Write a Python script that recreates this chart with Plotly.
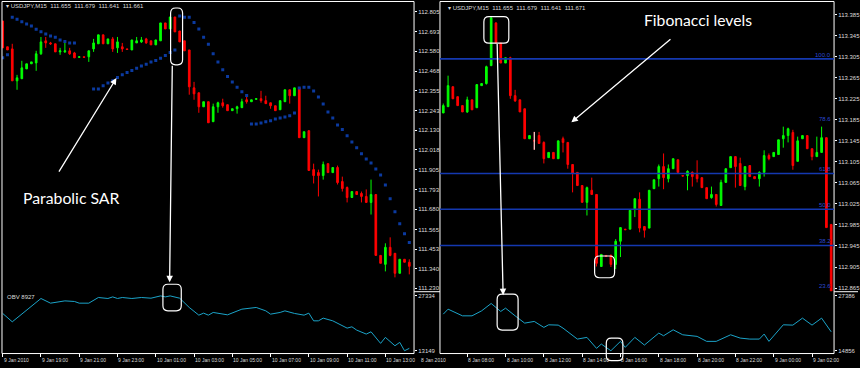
import plotly.graph_objects as go

# ---------------- data: left chart (USDJPY M15, Parabolic SAR) ----------------
left_open = [112.753,112.606,112.594,112.412,112.424,112.480,112.509,112.514,112.566,112.640,
             112.628,112.623,112.577,112.577,112.583,112.571,112.546,112.549,112.549,112.594,
             112.623,112.674,112.623,112.651,112.600,112.606,112.594,112.588,112.628,112.634,
             112.651,112.640,112.617,112.640,112.742,112.708,112.776,112.696,112.640,112.588,
             112.372,112.344,112.264,112.293,112.179,112.264,112.287,112.276,112.242,112.253,
             112.259,112.304,112.293,112.307,112.310,112.299,112.287,112.270,112.247,112.293,
             112.361,112.327,112.372,112.088,112.128,111.906,111.889,111.872,111.940,111.889,
             111.918,111.838,111.804,111.747,111.781,111.770,111.753,111.719,111.764,111.417,
             111.366,111.463,111.429,111.315,111.395,111.378]
left_high = [112.753,112.606,112.623,112.446,112.526,112.509,112.520,112.583,112.662,112.662,
             112.634,112.623,112.600,112.634,112.600,112.577,112.549,112.549,112.583,112.651,
             112.674,112.674,112.651,112.662,112.662,112.628,112.594,112.645,112.662,112.662,
             112.657,112.640,112.645,112.742,112.742,112.776,112.776,112.696,112.640,112.588,
             112.406,112.344,112.293,112.293,112.282,112.293,112.310,112.276,112.253,112.270,
             112.310,112.333,112.304,112.310,112.355,112.327,112.287,112.270,112.299,112.361,
             112.361,112.372,112.372,112.122,112.128,111.940,111.906,111.952,111.940,111.918,
             111.929,111.866,111.810,111.781,111.781,111.781,111.793,111.849,111.764,111.417,
             111.486,111.520,111.429,111.395,111.395,111.395]
left_low = [112.600,112.588,112.412,112.361,112.424,112.480,112.509,112.469,112.560,112.600,
            112.617,112.577,112.560,112.571,112.560,112.543,112.543,112.546,112.520,112.577,
            112.623,112.623,112.623,112.577,112.571,112.577,112.591,112.588,112.628,112.628,
            112.623,112.617,112.617,112.640,112.708,112.708,112.691,112.634,112.583,112.333,
            112.304,112.230,112.264,112.173,112.179,112.230,112.259,112.242,112.242,112.225,
            112.259,112.282,112.293,112.304,112.287,112.282,112.253,112.242,112.247,112.293,
            112.282,112.327,112.088,112.088,111.901,111.827,111.753,111.849,111.889,111.889,
            111.821,111.781,111.719,111.747,111.764,111.719,111.719,111.650,111.417,111.372,
            111.326,111.412,111.292,111.315,111.378,111.309]
left_close = [112.600,112.588,112.412,112.429,112.486,112.509,112.520,112.566,112.634,112.628,
              112.623,112.577,112.583,112.583,112.566,112.543,112.549,112.546,112.583,112.628,
              112.674,112.623,112.651,112.594,112.634,112.594,112.591,112.645,112.640,112.645,
              112.628,112.617,112.645,112.742,112.708,112.776,112.691,112.634,112.583,112.378,
              112.338,112.264,112.293,112.173,112.264,112.287,112.270,112.242,112.253,112.264,
              112.293,112.293,112.304,112.310,112.299,112.282,112.270,112.242,112.299,112.361,
              112.327,112.372,112.088,112.122,111.901,111.872,111.872,111.935,111.889,111.918,
              111.832,111.798,111.747,111.781,111.764,111.753,111.719,111.764,111.417,111.372,
              111.463,111.417,111.315,111.395,111.378,111.355]
left_sar = [112.543,112.560,112.774,112.763,112.749,112.736,112.725,112.706,112.692,112.679,
            112.668,112.661,112.645,112.636,112.627,112.627,None,None,None,112.365,
            112.365,112.384,112.399,112.412,112.431,112.446,112.459,112.471,112.484,112.497,
            112.507,112.519,112.528,112.541,112.556,112.573,112.588,112.782,112.774,112.774,
            112.744,112.708,112.661,112.621,112.566,112.519,112.475,112.437,112.405,112.376,
            112.350,112.329,112.166,112.166,112.172,112.179,112.185,112.194,112.200,112.206,
            112.213,112.229,112.371,112.376,112.376,112.354,112.320,112.280,112.234,112.200,
            112.160,112.134,112.099,112.064,112.030,111.996,111.967,111.944,111.910,111.876,
            111.819,111.740,111.666,111.597,111.541,111.490]
left_obv_bar = [0,2,8,10,13,14,15,16,18,20,22,23,24,25,27,29,31,33,34,35,37,39,41,42,43,44,45,47,50,53,
                55,56,58,59,61,63,64,65,66,67,69,72,73,74,76,77,79,80,82,83,84,85]
left_obv = [22794,20628,26663,25451,26044,25889,25889,25451,25451,26921,26663,27076,26663,26921,26663,
            26921,26740,27334,27076,27334,26740,24342,22356,22872,22356,23052,22872,22433,23903,24342,
            23465,22614,23052,23465,22794,22356,22872,20886,20886,21582,20886,19003,19339,18488,17456,
            18049,15057,16605,14439,15315,13149,13768]
left_price_ticks = ["112.805","112.693","112.580","112.468","112.355","112.243","112.130","112.018",
                    "111.905","111.793","111.680","111.565","111.453","111.340","111.230"]
left_obv_ticks = ["27334", "13149"]
left_time_bar = [0, 8, 16, 24, 32, 40, 48, 56, 64, 72, 80]
left_time_txt = ["9 Jan 2010", "9 Jan 19:00", "9 Jan 21:00", "9 Jan 23:00", "10 Jan 01:00", "10 Jan 03:00",
                 "10 Jan 05:00", "10 Jan 07:00", "10 Jan 09:00", "10 Jan 11:00", "10 Jan 13:00"]

# ---------------- data: right chart (USDJPY M15, Fibonacci) ----------------
right_open = [113.198,113.210,113.248,113.229,113.212,113.200,113.223,113.208,113.250,113.254,
              113.288,113.369,113.331,113.293,113.303,113.231,113.223,113.206,113.149,113.145,
              113.155,113.142,113.113,113.123,113.111,113.149,113.142,113.100,113.085,113.060,
              113.028,113.051,113.043,112.906,112.927,112.927,112.910,112.954,112.977,112.977,
              113.015,113.034,112.982,112.979,113.054,113.073,113.096,113.073,113.092,113.109,
              113.079,113.079,113.085,113.081,113.075,113.056,113.037,113.043,113.022,113.066,
              113.094,113.115,113.102,113.058,113.098,113.077,113.073,113.085,113.117,113.115,
              113.119,113.149,113.155,113.161,113.106,113.149,113.155,113.130,113.115,113.123,
              113.151,112.986]
right_high = [113.216,113.269,113.248,113.229,113.212,113.229,113.223,113.252,113.254,113.288,
              113.381,113.371,113.331,113.303,113.305,113.242,113.223,113.206,113.155,113.162,
              113.162,113.144,113.123,113.123,113.145,113.153,113.142,113.100,113.085,113.060,
              113.058,113.075,113.043,112.929,112.927,112.929,112.958,112.980,112.977,113.013,
              113.035,113.047,112.982,113.051,113.071,113.100,113.121,113.100,113.111,113.109,
              113.079,113.089,113.087,113.108,113.075,113.056,113.058,113.043,113.071,113.092,
              113.115,113.115,113.113,113.096,113.098,113.077,113.087,113.127,113.121,113.123,
              113.147,113.172,113.170,113.166,113.153,113.155,113.155,113.130,113.153,113.172,
              113.151,112.986]
right_low = [113.198,113.210,113.225,113.212,113.200,113.198,113.204,113.208,113.250,113.252,
             113.288,113.331,113.293,113.293,113.225,113.219,113.200,113.149,113.149,113.128,
             113.140,113.102,113.113,113.111,113.111,113.123,113.092,113.047,113.060,113.028,
             113.003,113.043,112.906,112.906,112.925,112.905,112.901,112.924,112.976,112.977,
             113.000,112.971,112.961,112.979,113.054,113.058,113.053,113.066,113.092,113.085,
             113.078,113.051,113.058,113.066,113.056,113.035,113.035,113.020,113.022,113.066,
             113.094,113.056,113.060,113.051,113.077,113.073,113.058,113.077,113.108,113.115,
             113.119,113.132,113.142,113.090,113.106,113.149,113.130,113.108,113.115,113.123,
             112.980,112.859]
right_close = [113.212,113.250,113.225,113.212,113.200,113.223,113.204,113.252,113.254,113.286,
               113.379,113.331,113.293,113.303,113.231,113.221,113.200,113.149,113.155,113.145,
               113.140,113.111,113.123,113.111,113.145,113.142,113.100,113.083,113.060,113.028,
               113.056,113.043,112.912,112.929,112.925,112.910,112.954,112.980,112.976,113.013,
               113.035,112.979,112.975,113.051,113.071,113.096,113.075,113.092,113.111,113.085,
               113.078,113.087,113.077,113.073,113.056,113.035,113.043,113.024,113.066,113.092,
               113.115,113.096,113.060,113.096,113.077,113.073,113.085,113.117,113.111,113.123,
               113.147,113.155,113.168,113.098,113.145,113.155,113.130,113.115,113.123,113.151,
               112.980,112.859]
right_obv_bar = [0,1,4,6,8,10,12,13,15,17,19,21,22,24,25,28,30,32,33,35,37,38,40,42,45,46,48,50,53,55,
                 57,60,62,64,66,67,68,71,73,75,77,79,81]
right_obv = [23216,24355,22829,22829,23968,25654,23831,24583,22829,21166,21553,20187,20779,20710,20027,
             17521,17909,15403,16382,14856,16997,15631,17909,16154,18888,18273,19640,18501,18136,16997,
             16997,18501,17749,17521,17521,18660,16997,20779,20710,22305,20710,22305,19184]
right_price_ticks = ["113.385","113.345","113.305","113.265","113.225","113.185","113.145",
                     "113.105","113.065","113.025","112.985","112.945","112.905","112.865"]
right_obv_ticks = ["27386", "14856"]
right_time_bar = [5, 13, 21, 29, 37, 45, 53, 61, 69, 77]
right_time_txt = ["8 Jan 08:00", "8 Jan 10:00", "8 Jan 12:00", "8 Jan 14:00", "8 Jan 16:00",
                  "8 Jan 18:00", "8 Jan 20:00", "8 Jan 22:00", "9 Jan 00:00", "9 Jan 02:00"]
fib_levels = ["100.0", "78.6", "61.8", "50.0", "38.2", "23.6"]
fib_prices = [113.301, 113.179, 113.083, 113.015, 112.946, 112.861]
fib_line_shown = [True, False, True, True, True, False]

# ---------------- styling ----------------
W, H = 860, 368
BULL, BEAR = "#00ff00", "#ff0000"
SAR_C = "#0b3aa0"
OBV_C = "#1ba3c8"
FIB_C = "#1438b0"
TXT = "#dcdcdc"
SMALL = dict(family="Liberation Sans", size=6, color=TXT)


def X(p):
    return p / W


def Y(p):
    return 1 - p / H


fig = go.Figure()


def candles(o, h, l, c, xa, ya):
    xs = list(range(len(o)))
    fig.add_trace(go.Candlestick(
        x=xs, open=o, high=h, low=l, close=c, xaxis=xa, yaxis=ya,
        increasing=dict(line=dict(color=BULL, width=1), fillcolor=BULL),
        decreasing=dict(line=dict(color=BEAR, width=1), fillcolor=BEAR),
        whiskerwidth=0, showlegend=False, hoverinfo="skip"))
    # doji bars (open == close) are drawn white
    dx, dy = [], []
    for i in xs:
        if o[i] == c[i]:
            dx += [i, i, None]
            dy += [h[i], l[i], None]
    if dx:
        fig.add_trace(go.Scatter(x=dx, y=dy, mode="lines", line=dict(color="white", width=1),
                                 xaxis=xa, yaxis=ya, showlegend=False, hoverinfo="skip"))


candles(left_open, left_high, left_low, left_close, "x", "y")
fig.add_trace(go.Scatter(x=list(range(len(left_sar))), y=left_sar, mode="markers",
                         marker=dict(symbol="square", size=3, color=SAR_C, line=dict(width=0)),
                         xaxis="x", yaxis="y", showlegend=False, hoverinfo="skip"))
fig.add_trace(go.Scatter(x=left_obv_bar, y=left_obv, mode="lines", line=dict(color=OBV_C, width=1),
                         xaxis="x2", yaxis="y2", showlegend=False, hoverinfo="skip"))

candles(right_open, right_high, right_low, right_close, "x3", "y3")
fig.add_trace(go.Scatter(x=right_obv_bar, y=right_obv, mode="lines", line=dict(color=OBV_C, width=1),
                         xaxis="x4", yaxis="y4", showlegend=False, hoverinfo="skip"))

# panes
LX = [X(2), X(415)]
RX = [X(441), X(836)]
PRICE_D = [Y(292), Y(1)]
OBV_D = [Y(354), Y(294)]
LRANGE = [-0.146, 85.99]
RRANGE = [-0.69, 81.6]


def xax(dom, rng, anchor, tickvals=None):
    d = dict(domain=dom, range=rng, anchor=anchor, showgrid=False, zeroline=False, showline=False,
             rangeslider=dict(visible=False), fixedrange=True, showticklabels=False)
    if tickvals is None:
        d.update(ticks="")
    else:
        d.update(tickmode="array", tickvals=tickvals, ticks="outside", ticklen=3,
                 tickcolor="white", tickwidth=1)
    return d


def yax(dom, rng, anchor, ticktext):
    return dict(domain=dom, range=rng, anchor=anchor, side="right", showgrid=False, zeroline=False,
                showline=False, fixedrange=True, tickmode="array",
                tickvals=[float(t) for t in ticktext], ticktext=ticktext,
                ticks="outside", ticklen=2, tickcolor="white", tickwidth=1, tickfont=SMALL)


fig.update_layout(
    width=W, height=H, margin=dict(l=0, r=0, t=0, b=0),
    paper_bgcolor="black", plot_bgcolor="black", showlegend=False, boxgap=0.5,
    xaxis=xax(LX, LRANGE, "y"),
    yaxis=yax(PRICE_D, [111.213, 112.867], "x", left_price_ticks),
    xaxis2=xax(LX, LRANGE, "y2", left_time_bar),
    yaxis2=yax(OBV_D, [12556, 28030], "x2", left_obv_ticks),
    xaxis3=xax(RX, RRANGE, "y3"),
    yaxis3=yax(PRICE_D, [112.859, 113.411], "x3", right_price_ticks),
    xaxis4=xax(RX, RRANGE, "y4", right_time_bar),
    yaxis4=yax(OBV_D, [14332, 28001], "x4", right_obv_ticks),
)

shapes = []


def pline(x0, y0, x1, y1, color="white", width=1):
    shapes.append(dict(type="line", xref="paper", yref="paper", x0=X(x0), y0=Y(y0), x1=X(x1), y1=Y(y1),
                       line=dict(color=color, width=width)))


# frames
for (a, b) in [(2, 415), (441, 836)]:
    pline(a, 1.5, b, 1.5)
    pline(a, 1.5, a, 354.5)
    pline(b, 1.5, b, 354.5)
    pline(a, 354.5, b, 354.5)
pline(415, 292.5, 441, 292.5)
pline(836, 292.5, 860, 292.5)

# fibonacci lines
for lvl, pr, show in zip(fib_levels, fib_prices, fib_line_shown):
    if show:
        shapes.append(dict(type="line", xref="x3 domain", yref="y3", x0=0, x1=1, y0=pr, y1=pr,
                           line=dict(color=FIB_C, width=1.6)))


def rrect(x0, y0, x1, y1, r=5):
    p = (f"M {X(x0 + r)},{Y(y0)} L {X(x1 - r)},{Y(y0)} Q {X(x1)},{Y(y0)} {X(x1)},{Y(y0 + r)} "
         f"L {X(x1)},{Y(y1 - r)} Q {X(x1)},{Y(y1)} {X(x1 - r)},{Y(y1)} "
         f"L {X(x0 + r)},{Y(y1)} Q {X(x0)},{Y(y1)} {X(x0)},{Y(y1 - r)} "
         f"L {X(x0)},{Y(y0 + r)} Q {X(x0)},{Y(y0)} {X(x0 + r)},{Y(y0)} Z")
    shapes.append(dict(type="path", xref="paper", yref="paper", path=p,
                       line=dict(color="white", width=1.2)))


rrect(171, 8, 183, 65)
rrect(163.3, 285, 181.7, 311.7)
rrect(485, 16.7, 510, 43.3)
rrect(596, 256.7, 616, 278.5)
rrect(498.3, 295, 519.3, 331)
rrect(607.7, 339, 624.3, 361.7)
fig.update_layout(shapes=shapes)

ann = []


def arrow(x0, y0, x1, y1, head=2):
    ann.append(dict(xref="paper", yref="paper", x=X(x1), y=Y(y1), ax=x0 - x1, ay=y0 - y1,
                    axref="pixel", ayref="pixel", text="", showarrow=True, arrowhead=head,
                    arrowsize=1, arrowwidth=1.3, arrowcolor="white", standoff=0, startstandoff=0))


arrow(58.3, 173.3, 116.7, 78.3)
arrow(673.3, 38.3, 572.7, 122.7)
arrow(172.7, 65, 170, 283)
arrow(498.3, 43.3, 504.3, 296)

ann.append(dict(xref="paper", yref="paper", x=X(71.5), y=Y(198), text="Parabolic SAR", showarrow=False,
                font=dict(family="Lato", size=15.8, color="white"), xanchor="center", yanchor="middle"))
ann.append(dict(xref="paper", yref="paper", x=X(700), y=Y(20), text="Fibonacci levels", showarrow=False,
                font=dict(family="Lato", size=15.7, color="white"), xanchor="center", yanchor="middle"))

# headers
ann.append(dict(xref="paper", yref="paper", x=X(4), y=Y(6), text="▾ USDJPY,M15  111.655  111.679  111.641  111.661",
                showarrow=False, font=SMALL, xanchor="left", yanchor="middle"))
ann.append(dict(xref="paper", yref="paper", x=X(447), y=Y(8), text="▾ USDJPY,M15  111.655  111.679  111.641  111.671",
                showarrow=False, font=SMALL, xanchor="left", yanchor="middle"))
ann.append(dict(xref="paper", yref="paper", x=X(5), y=Y(298), text="OBV 8927",
                showarrow=False, font=SMALL, xanchor="left", yanchor="middle"))

# fib labels
for lvl, pr in zip(fib_levels, fib_prices):
    ann.append(dict(xref="paper", yref="y3", x=X(835), y=pr, text=lvl, showarrow=False,
                    font=dict(family="Liberation Sans", size=6, color="#2c48d0"),
                    xanchor="right", yanchor="bottom", yshift=-1))

# time labels
TFONT = dict(family="Liberation Sans", size=5, color=TXT)
for b, t in zip(left_time_bar, left_time_txt):
    ann.append(dict(xref="x2", yref="paper", x=b, y=Y(361), text=t, showarrow=False, font=TFONT,
                    xanchor="left", yanchor="middle", xshift=-1))
ann.append(dict(xref="paper", yref="paper", x=X(420), y=Y(361), text="8 Jan 2010", showarrow=False,
                font=TFONT, xanchor="left", yanchor="middle"))
for b, t in zip(right_time_bar, right_time_txt):
    ann.append(dict(xref="x4", yref="paper", x=b, y=Y(361), text=t, showarrow=False, font=TFONT,
                    xanchor="left", yanchor="middle", xshift=-1))

fig.update_layout(annotations=ann)
fig.write_html("out.html")
